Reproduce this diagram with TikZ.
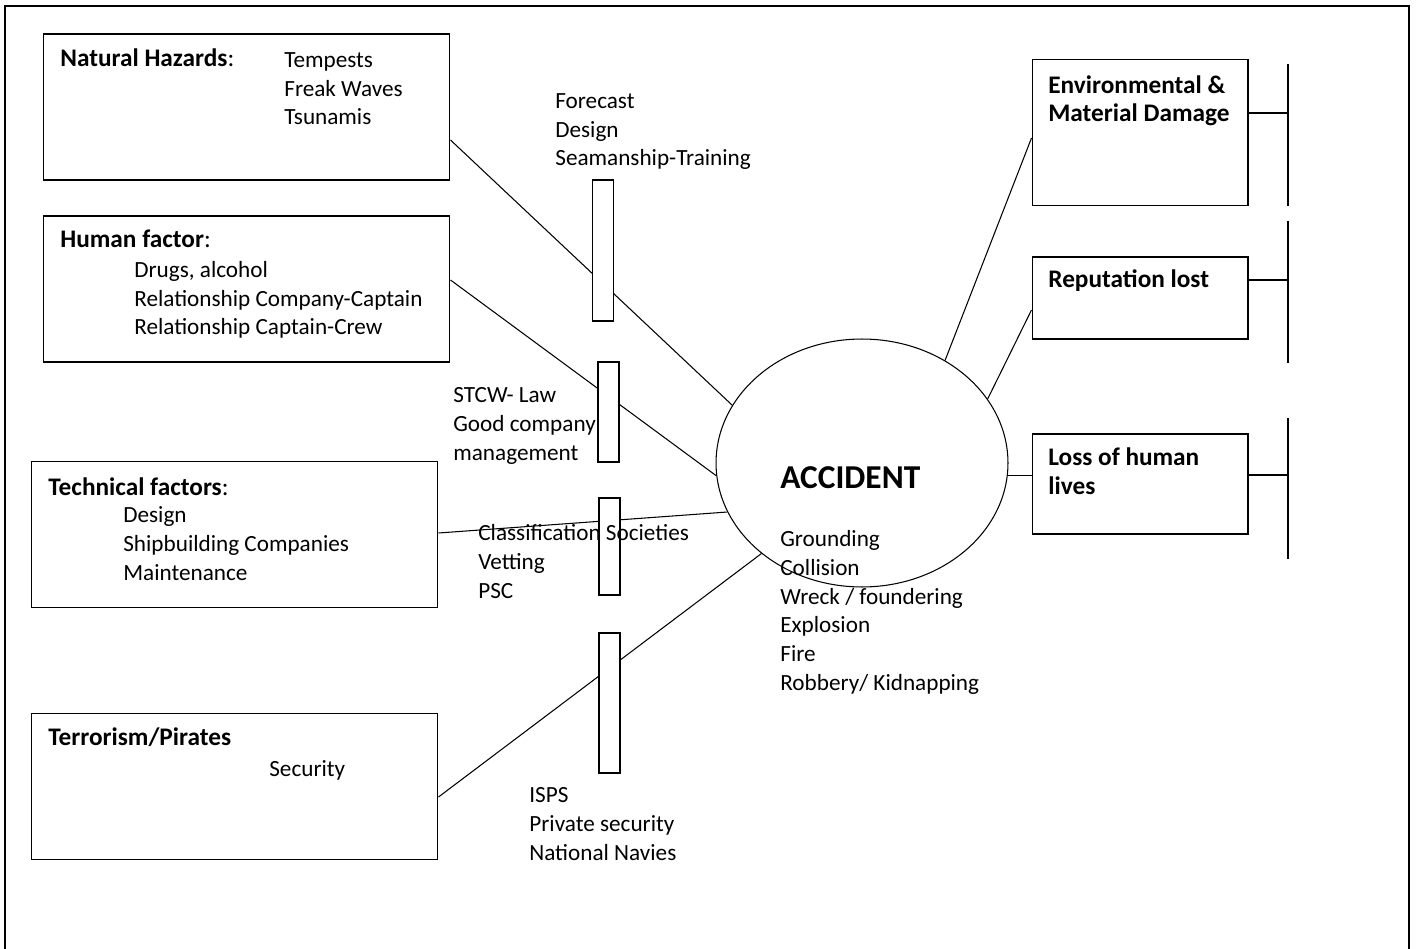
\documentclass[tikz,border=0pt]{standalone}
\usepackage{fontspec}
\setmainfont{Carlito}
\usetikzlibrary{shapes.geometric}

\tikzset{
  lbox/.style={draw, rectangle, line width=0.6pt, minimum width=8.14cm, minimum height=2.92cm, inner sep=0pt},
  rbox/.style={draw, rectangle, line width=0.6pt, minimum width=4.32cm, minimum height=#1, inner sep=0pt},
  bar/.style={draw, rectangle, fill=white, line width=0.6pt, minimum width=0.42cm, minimum height=#1, inner sep=0pt},
  txt/.style={anchor=base west, inner sep=0pt, align=left, font=\fontsize{13.2}{16.3}\selectfont},
  ttl/.style={txt, font=\fontsize{14.4}{16.4}\selectfont},
  link/.style={line width=0.6pt}
}

\begin{document}
\begin{tikzpicture}[x=0.02cm, y=-0.02cm]
\useasboundingbox (0,0) rectangle (1416,949);
\draw[line width=1.3pt] (5,949) -- (5,6) -- (1409,6) -- (1409,949);

% causes
\node[lbox] (nat) at (246.5,107) {};
\node[lbox] (hum) at (246.5,289) {};
\node[lbox] (tech) at (234.5,534.5) {};
\node[lbox] (ter) at (234.5,786.5) {};

% accident
\node[ellipse, draw, line width=0.6pt, minimum width=5.84cm, minimum height=4.96cm, inner sep=0pt] (acc) at (862,463) {};

% consequences
\node[rbox=2.92cm] (env) at (1140,132.6) {};
\node[rbox=1.64cm] (rep) at (1140,298) {};
\node[rbox=2cm] (loss) at (1140,484) {};

\draw[link] (nat.east |- 0,140) -- (acc.156);
\draw[link] (hum.east |- 0,280) -- (acc.185);
\draw[link] (tech.east |- 0,533) -- (acc.200);
\draw[link] (ter.east |- 0,797) -- (acc.222);

\draw[link] (acc.51) -- (env.west |- 0,138);
\draw[link] (acc.27) -- (rep.west |- 0,310);
\draw[link] (acc.-5) -- (acc.-5 -| loss.west);

\coordinate (envend) at (1288,113);
\coordinate (repend) at (1288,280);
\coordinate (lossend) at (1288,475);
\draw[link] (env.east |- envend) -- (envend);
\draw[link] (rep.east |- repend) -- (repend);
\draw[link] (loss.east |- lossend) -- (lossend);
\draw[link] (1288,64) -- (1288,206);
\draw[link] (1288,221) -- (1288,363);
\draw[link] (1288,418) -- (1288,559);

% barriers
\node[bar=2.82cm] (b1) at (603,250.5) {};
\node[bar=2cm] (b2) at (608.5,412) {};
\node[bar=1.94cm] (b3) at (609.5,546.5) {};
\node[bar=2.8cm] (b4) at (609.5,703) {};

% texts (base = last line)
\node[ttl] (nattitle) at (60,67) {\textbf{Natural Hazards}:};
\node[txt] (natlist) at (284,125) {Tempests\\Freak Waves\\Tsunamis};
\node[ttl] (humtitle) at (60,248) {\textbf{Human factor}:};
\node[txt] (humlist) at (134,335) {Drugs, alcohol\\Relationship Company-Captain\\Relationship Captain-Crew};
\node[ttl] (techtitle) at (48,495) {\textbf{Technical factors}:};
\node[txt] (techlist) at (123,580) {Design\\Shipbuilding Companies\\Maintenance};
\node[ttl] (tertitle) at (48,745) {\textbf{Terrorism/Pirates}};
\node[txt] (terlist) at (269,776) {Security};

\node[txt] (fctext) at (555,166) {Forecast\\Design\\Seamanship-Training};
\node[txt] (stcw) at (453,460) {STCW- Law\\Good company\\management};
\node[txt] (clas) at (478,598) {Classification Societies\\Vetting\\PSC};
\node[txt] (isps) at (529,860) {ISPS\\Private security\\National Navies};

\node[txt, font=\fontsize{19}{23}\selectfont\bfseries] (acctitle) at (780,488) {ACCIDENT};
\node[txt] (acclist) at (780,690) {Grounding\\Collision\\Wreck / foundering\\Explosion\\Fire\\Robbery/ Kidnapping};

\node[ttl, font=\fontsize{14.4}{16.4}\selectfont\bfseries] (envtitle) at (1048,122) {Environmental \&\\Material Damage};
\node[ttl, font=\fontsize{14.4}{16.4}\selectfont\bfseries] (reptitle) at (1048,288) {Reputation lost};
\node[ttl, font=\fontsize{14.4}{16.4}\selectfont\bfseries] (losstitle) at (1048,494) {Loss of human\\lives};
\end{tikzpicture}
\end{document}
